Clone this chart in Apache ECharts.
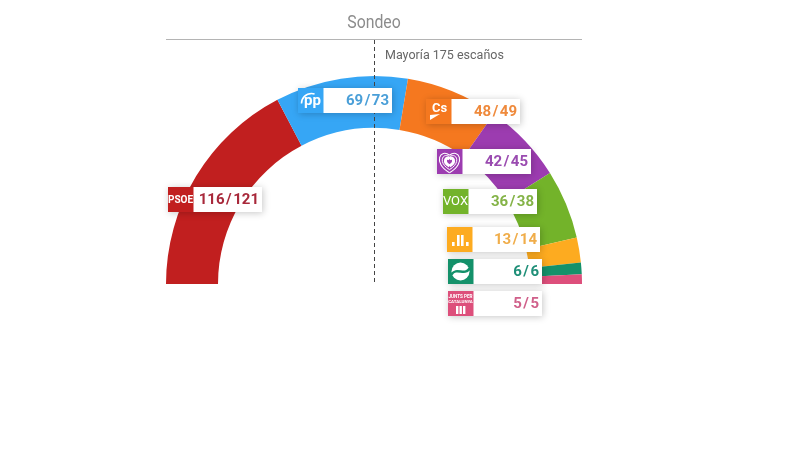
<!DOCTYPE html>
<html>
<head>
<meta charset="utf-8">
<style>html,body{margin:0;background:#fff}#main{width:800px;height:450px}</style>
<script src="https://cdn.jsdelivr.net/npm/echarts@6/dist/echarts.min.js"></script>
</head>
<body>
<div id="main"></div>
<script>
var parties = ['PSOE', 'PP', 'Cs', 'UP', 'VOX', 'MP', 'Equo', 'JxCat']
var seatsLow = [116, 69, 48, 42, 36, 13, 6, 5]
var seatsHigh = [121, 73, 49, 45, 38, 14, 6, 5]
var colors = ['#c11f1f', '#36a6f5', '#f5781f', '#9c3cb0', '#73b32a', '#fdab20', '#14916a', '#dd4f7b']
var textColors = ['#a8283a', '#4a9fd8', '#ef8a3c', '#9a4bb0', '#84b347', '#f0ad4a', '#1f8f78', '#d0608a']

// left, top, right edge of every card
var cards = [
  [168, 187, 262],
  [298, 88, 392],
  [426, 99, 520],
  [437, 149, 531],
  [443, 189, 537],
  [447, 227, 540],
  [448, 259, 542],
  [448, 291, 542]
]

function logoText(x, y, txt, size, weight) {
  return {
    type: 'text', z: 12,
    style: { x: x, y: y, text: txt, fill: '#fff', font: (weight || 'bold') + ' ' + size + 'px Roboto', align: 'center', verticalAlign: 'middle' }
  }
}

function whiteBar(x, y, w, h) {
  return { type: 'rect', z: 12, shape: { x: x, y: y, width: w, height: h }, style: { fill: '#fff' } }
}

// heart outline out of two curves, scale k around cx, cy
function heart(cx, cy, k, width) {
  function side(dir) {
    return {
      type: 'bezierCurve', z: 12,
      shape: {
        x1: cx, y1: cy + 9 * k, x2: cx, y2: cy - 5 * k,
        cpx1: cx + dir * 14 * k, cpy1: cy + 1 * k, cpx2: cx + dir * 7 * k, cpy2: cy - 11 * k
      },
      style: { stroke: '#fff', fill: null, lineWidth: width }
    }
  }
  return [side(1), side(-1)]
}

function logo(i, x, y) {
  var cx = x + 12.5, cy = y + 12.5
  if (i == 0) return [logoText(cx, cy + 0.5, 'PSOE', 10)]
  if (i == 1) return [
    logoText(cx + 2, cy + 1, 'pp', 15),
    { type: 'arc', z: 12, shape: { cx: cx + 1, cy: cy + 3, r: 10, startAngle: Math.PI, endAngle: Math.PI * 1.6 }, style: { stroke: '#fff', lineWidth: 1.6, fill: null } }
  ]
  if (i == 2) return [
    logoText(cx + 1, cy - 3, 'Cs', 13),
    { type: 'polygon', z: 12, shape: { points: [[x + 4, y + 21], [x + 14, y + 15], [x + 4, y + 16]] }, style: { fill: '#fff' } }
  ]
  if (i == 3) return heart(cx, cy, 1.25, 1.1).concat(heart(cx, cy, 0.9, 1), heart(cx, cy, 0.5, 3))
  if (i == 4) return [logoText(cx, cy, 'VOX', 13, 'normal')]
  if (i == 5) return [whiteBar(x + 5, y + 15, 2.6, 4), whiteBar(x + 10, y + 8, 2.6, 11), whiteBar(x + 14, y + 8, 2.6, 11), whiteBar(x + 19, y + 15, 2.6, 4)]
  if (i == 6) return [
    { type: 'circle', z: 12, shape: { cx: cx, cy: cy, r: 9 }, style: { fill: '#fff' } },
    {
      type: 'bezierCurve', z: 13,
      shape: { x1: cx - 9, y1: cy + 3, x2: cx + 9, y2: cy - 3, cpx1: cx - 4, cpy1: cy - 5, cpx2: cx + 4, cpy2: cy + 5 },
      style: { stroke: colors[6], fill: null, lineWidth: 2.4 }
    }
  ]
  return [
    logoText(cx, cy - 7, 'JUNTS PER', 4.6),
    logoText(cx, cy - 1.5, 'CATALUNYA', 4.4),
    whiteBar(x + 8, y + 15, 2.4, 8), whiteBar(x + 11.5, y + 15, 2.4, 8), whiteBar(x + 15, y + 15, 2.4, 8)
  ]
}

var graphics = [
  {
    type: 'text', z: 5, x: 374, y: 23, scaleX: 0.88,
    style: { text: 'Sondeo', fill: '#8c8c8c', font: '18px Roboto', align: 'center', verticalAlign: 'middle' }
  },
  { type: 'line', z: 5, shape: { x1: 166, y1: 39.5, x2: 582, y2: 39.5 }, style: { stroke: '#b4b4b4', lineWidth: 1 } },
  { type: 'line', z: 5, shape: { x1: 374.5, y1: 40, x2: 374.5, y2: 284 }, style: { stroke: '#444', lineWidth: 1, lineDash: [4, 3] } },
  { type: 'text', z: 5, style: { x: 385, y: 56, text: 'Mayoría 175 escaños', fill: '#666', font: '12.5px Roboto', verticalAlign: 'middle' } }
]

cards.forEach(function (c, i) {
  var x = c[0], y = c[1], right = c[2]
  graphics.push({
    type: 'rect', z: 10, shape: { x: x, y: y, width: right - x, height: 25 },
    style: { fill: '#fff', shadowBlur: 7, shadowColor: 'rgba(0,0,0,0.22)', shadowOffsetX: 1, shadowOffsetY: 1 }
  })
  graphics.push({ type: 'rect', z: 11, shape: { x: x, y: y, width: 25.5, height: 25 }, style: { fill: colors[i] } })
  graphics = graphics.concat(logo(i, x, y))
  graphics.push({
    type: 'text', z: 12,
    style: {
      x: right - 3, y: y + 13, text: seatsLow[i] + '\u200a/\u200a' + seatsHigh[i], fill: textColors[i],
      font: 'bold 15px Roboto', align: 'right', verticalAlign: 'middle'
    }
  })
})

var chart = echarts.init(document.getElementById('main'))
chart.setOption({
  animation: false,
  backgroundColor: '#fff',
  color: colors,
  series: [{
    type: 'pie',
    center: [374, 284],
    radius: [156, 208],
    startAngle: 180,
    endAngle: 0,
    clockwise: true,
    label: { show: false },
    labelLine: { show: false },
    data: parties.map(function (p, i) { return { name: p, value: seatsLow[i] } })
  }],
  graphic: graphics
})
</script>
</body>
</html>
